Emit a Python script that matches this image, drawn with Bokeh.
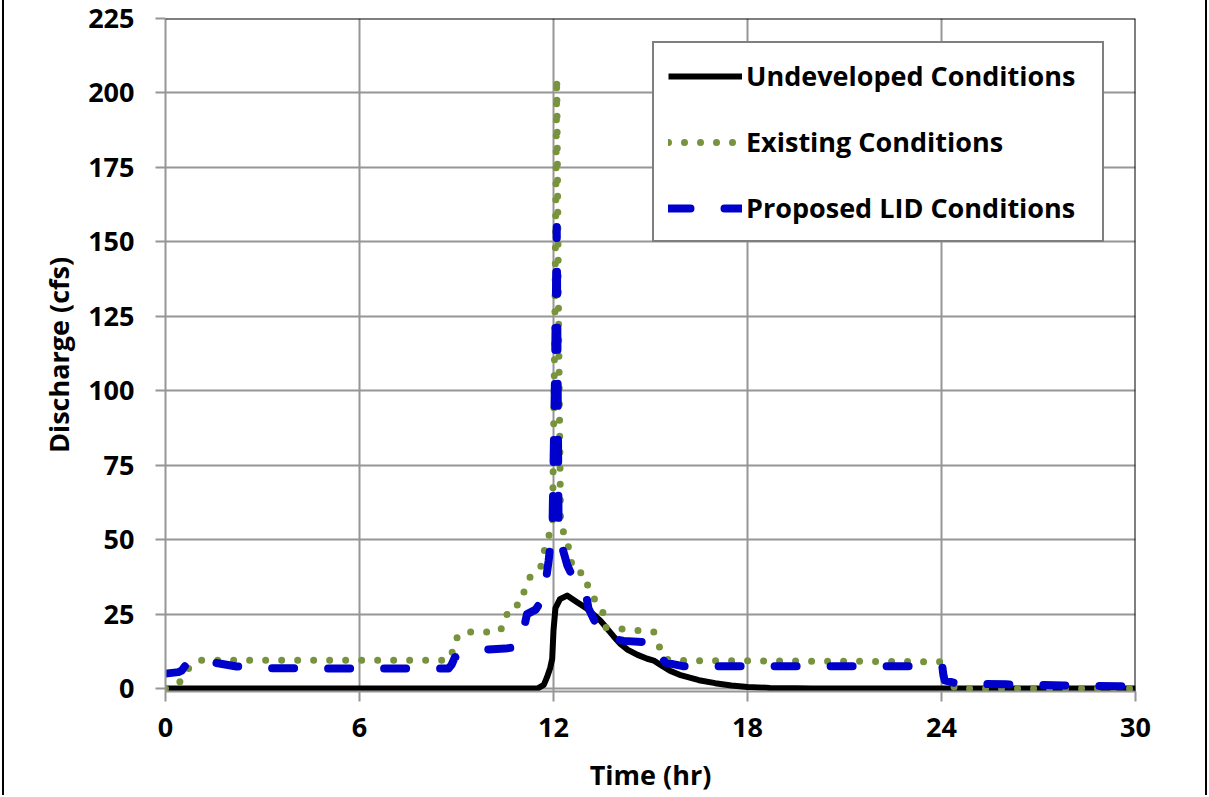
from bokeh.plotting import figure
from bokeh.models import FixedTicker, Span, Legend, LegendItem, Range1d
from bokeh.embed import file_html
from bokeh.resources import INLINE

# ---------------- data ----------------
undev_t = [0, 11.5, 11.7, 11.8, 11.9, 11.96, 12.0, 12.06, 12.2, 12.42, 12.73, 13.04,
           13.45, 13.86, 14.07, 14.3, 14.6, 14.9, 15.1, 15.3, 15.6, 15.9, 16.1, 16.5,
           17.0, 17.5, 18.0, 18.7, 19.5, 20.0, 30]
undev_q = [0, 0, 1.2, 3.8, 7, 10, 19.5, 27, 30, 31.2, 29, 26.8,
           22.8, 17.5, 15, 13, 11.3, 10, 9.4, 8, 6, 4.6, 4.0, 2.8,
           1.8, 1.0, 0.5, 0.2, 0.05, 0, 0]

exist_t = [0, 0.43, 0.68, 1.0, 1.2, 8.7, 8.85, 8.9, 9.2, 10.3, 10.5, 10.6, 11.0, 11.1,
           11.3, 11.6, 11.7, 11.85, 11.97, 12.04, 12.1, 12.16, 12.22, 12.43, 12.5, 12.62,
           13.0, 13.08, 13.3, 13.52, 13.6, 15.1, 15.4, 15.6, 24.0, 24.1, 24.45, 30]
exist_q = [0, 2, 6.4, 9.4, 9.5, 9.5, 10.5, 15.8, 19, 19, 21.5, 27, 28.5, 33,
           38, 40.6, 45.7, 51, 55.7, 120, 205, 120, 54.7, 49.7, 44.7, 39.6,
           38.3, 33, 29.5, 26, 20.5, 19, 10.4, 9.4, 9.0, 3, 0, 0]

lid_t = [0, 0.4, 0.5, 0.6, 0.7, 1.5, 2.2, 3.0, 8.75, 8.85, 8.95, 9.7, 10.5, 10.9, 11.0,
         11.07, 11.18, 11.45, 11.65, 11.75, 11.85, 11.97, 12.04, 12.1, 12.13, 12.16,
         12.28, 12.43, 12.7, 12.84, 13.0, 13.08, 13.3, 13.55, 13.7, 14.17, 15.15, 15.25,
         15.46, 16.0, 23.6, 24.03, 24.06, 24.1, 24.5, 26.0, 27.8, 29.5, 30]
lid_q = [5, 5.5, 6, 7.5, 9, 8.7, 7.4, 6.8, 6.7, 8, 10.5, 13, 13.4, 14, 16,
         19.5, 25, 26.5, 30, 35, 43, 55, 100, 155, 100, 49.7,
         47, 41.3, 35, 33.6, 32, 27, 22, 19, 17, 16, 15.4, 11.7,
         8.7, 7.5, 7.5, 7.0, 4.4, 2.7, 1.6, 1.4, 1.0, 0.8, 0.6]

series_names = ["Undeveloped Conditions", "Existing Conditions", "Proposed LID Conditions"]
x_ticks = [0, 6, 12, 18, 24, 30]
y_ticks = [0, 25, 50, 75, 100, 125, 150, 175, 200, 225]
X_MIN, X_MAX = 0, 30
Y_MIN, Y_MAX = -1, 225

FONT = "Open Sans"
GRID = "#969696"

p = figure(frame_width=970, frame_height=673,
           x_range=Range1d(X_MIN, X_MAX), y_range=Range1d(Y_MIN, Y_MAX),
           output_backend="svg", toolbar_location=None,
           min_border_left=161, min_border_right=70,
           min_border_top=18, min_border_bottom=104,
           background_fill_color="white", border_fill_color="white")
p.outline_line_color = None
p.styles = {"margin-left": "2px", "border-left": "2px solid black",
            "border-right": "2px solid black"}

# grid
p.xgrid.ticker = FixedTicker(ticks=x_ticks)
p.ygrid.ticker = FixedTicker(ticks=y_ticks)
for g in (p.xgrid, p.ygrid):
    g.grid_line_color = GRID
    g.grid_line_width = 2

# axes
p.xaxis.ticker = FixedTicker(ticks=x_ticks)
p.yaxis.ticker = FixedTicker(ticks=y_ticks)
for ax in (p.xaxis, p.yaxis):
    ax.axis_line_color = GRID
    ax.axis_line_width = 2
    ax.major_tick_line_color = GRID
    ax.major_tick_line_width = 2
    ax.major_tick_out = 10
    ax.major_tick_in = 0
    ax.minor_tick_line_color = None
    ax.major_label_text_font = FONT
    ax.major_label_text_font_style = "bold"
    ax.major_label_text_font_size = "27px"
    ax.major_label_text_color = "black"
    ax.axis_label_text_font = FONT
    ax.axis_label_text_font_style = "bold"
    ax.axis_label_text_font_size = "27px"
    ax.axis_label_text_color = "black"
p.xaxis.axis_label = "Time (hr)"
p.yaxis.axis_label = "Discharge (cfs)"
p.yaxis.major_label_standoff = 21
p.xaxis.major_label_standoff = 16
p.xaxis.axis_label_standoff = 16
p.yaxis.axis_label_standoff = 8

# black frame edges at top and right
p.add_layout(Span(location=Y_MAX, dimension="width", line_color="black", line_width=2))
p.add_layout(Span(location=X_MAX, dimension="height", line_color="black", line_width=2))

r1 = p.line(undev_t, undev_q, line_color="black", line_width=6, line_join="round")
r2 = p.line(exist_t, exist_q, line_color="#77933C", line_width=7, line_dash="0 16",
            line_cap="round", line_join="round")
r3 = p.line(lid_t, lid_q, line_color="#0000CC", line_width=8, line_dash="22 34",
            line_cap="round", line_join="round")

legend = Legend(items=[LegendItem(label=series_names[0], renderers=[r1]),
                       LegendItem(label=series_names[1], renderers=[r2]),
                       LegendItem(label=series_names[2], renderers=[r3])],
                location=(487, 449), margin=0, padding=14, spacing=29,
                glyph_width=74, glyph_height=28, label_height=28,
                label_standoff=4, label_width=342,
                label_text_font=FONT, label_text_font_style="bold",
                label_text_font_size="27px", label_text_color="black",
                border_line_color="black", border_line_width=2,
                background_fill_color="white", background_fill_alpha=1)
p.add_layout(legend)

open("out.html", "w").write(file_html(p, INLINE))
